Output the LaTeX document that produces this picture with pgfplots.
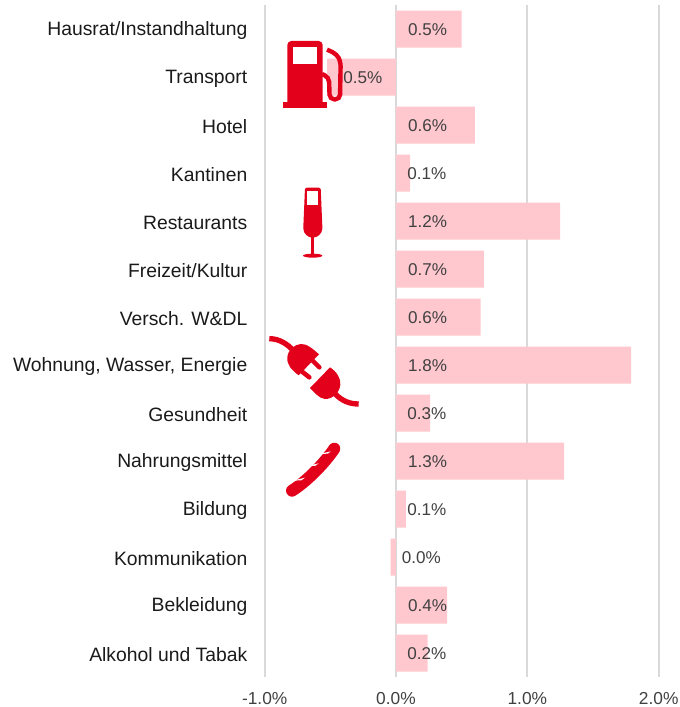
\documentclass[border=0pt]{standalone}
\usepackage{fontspec}
\setmainfont{Liberation Sans}
\usepackage{pgfplots}
\pgfplotsset{compat=1.18}
\definecolor{barpink}{HTML}{FFC7CE}
\definecolor{iconred}{HTML}{E2001A}
\definecolor{gridgray}{HTML}{D9D9D9}
\definecolor{lab}{HTML}{404040}
\definecolor{cat}{HTML}{1A1A1A}
\begin{document}
\begin{tikzpicture}[x=1pt,y=1pt]
\path[use as bounding box] (0,0) rectangle (510,530.25);
\begin{axis}[
  at={(198.5pt,22.5pt)}, anchor=south west,
  scale only axis, width=295.5pt, height=504pt,
  xmin=-1, xmax=2, ymin=-0.5, ymax=13.5, y dir=reverse,
  axis line style={draw=none},
  major tick length=0pt,
  xmajorgrids, major x grid style={gridgray,line width=1.35pt},
  xtick={-1,0,1,2},
  xticklabels={-1.0\%,0.0\%,1.0\%,2.0\%},
  ytick={0,...,13},
  yticklabels={Hausrat/Instandhaltung,Transport,Hotel,Kantinen,Restaurants,Freizeit/Kultur,Versch. W\&DL,{Wohnung, Wasser, Energie},Gesundheit,Nahrungsmittel,Bildung,Kommunikation,Bekleidung,Alkohol und Tabak},
  yticklabel style={font=\fontsize{14.5pt}{16pt}\selectfont,text=cat,xshift=-9.5pt,yshift=-1.2pt},
  xticklabel style={font=\fontsize{13pt}{15pt}\selectfont,text=lab,yshift=-7.8pt},
  clip=false,
]
\addplot[xbar, bar width=27.75pt, bar shift=0pt, fill=barpink, draw=none] coordinates {
 (0.50,0) (-0.525,1) (0.60,2) (0.107,3) (1.25,4) (0.67,5) (0.645,6)
 (1.79,7) (0.26,8) (1.28,9) (0.075,10) (-0.04,11) (0.39,12) (0.24,13)};
\addplot[draw=none, mark=none, point meta=explicit symbolic,
  nodes near coords={\pgfplotspointmeta\%},
  every node near coord/.style={anchor=west,inner sep=0pt,text=lab,yshift=-0.8pt,font=\fontsize{12.8pt}{15pt}\selectfont}]
 table[x=x,y=y,meta=l,row sep=\\] {
 x y l\\
 0.09 0 0.5\\
 -0.403 1 0.5\\
 0.09 2 0.6\\
 0.085 3 0.1\\
 0.09 4 1.2\\
 0.09 5 0.7\\
 0.09 6 0.6\\
 0.09 7 1.8\\
 0.085 8 0.3\\
 0.09 9 1.3\\
 0.085 10 0.1\\
 0.042 11 0.0\\
 0.09 12 0.4\\
 0.085 13 0.2\\
};
\end{axis}
% Icons, in 3x zoom coordinates
\begin{scope}[x=0.25pt,y=-0.25pt,xshift=195pt,yshift=530.25pt]
 % pump
 \fill[iconred,rounded corners=3pt] (82,324) -- (82,123) -- (188,123) -- (188,324) -- cycle;
 \fill[iconred] (70,306) rectangle (200,324);
 \fill[white] (100,140) rectangle (172,192);
 \draw[iconred,line width=3.3pt,rounded corners=3.5pt] (186,222) -- (207,232) -- (209,298) -- (240,298) -- (242,185) -- (230,162) -- (201,149);
 % glass
 \fill[iconred,rounded corners=1.5pt] (135,563) -- (182,563) -- (187,680) .. controls (187,702) and (170,712) .. (158,712) .. controls (146,712) and (130,702) .. (130,680) -- cycle;
 \fill[white] (142,573) rectangle (174,615);
 \fill[iconred] (153,700) rectangle (163,764);
 \fill[iconred] (158,767) ellipse [x radius=29,y radius=6];
\end{scope}
\begin{scope}[x=0.25pt,y=-0.25pt,xshift=195pt,yshift=282.75pt]
 % plug
 \draw[iconred,line width=4pt] (28,26) .. controls (60,26) and (85,45) .. (100,62);
 \fill[iconred] (122,42) .. controls (140,40) and (160,58) .. (177,73) -- (116,136) .. controls (95,120) and (80,105) .. (82,82) .. controls (84,60) and (102,44) .. (122,42) -- cycle;
 \draw[iconred,line width=3.4pt,line cap=round] (158,92) -- (178,112);
 \draw[iconred,line width=3.4pt,line cap=round] (125,124) -- (148,142);
 \fill[iconred] (210,112) .. controls (230,125) and (243,145) .. (241,165) .. controls (238,190) and (215,208) .. (195,207) .. controls (178,205) and (165,190) .. (150,174) -- cycle;
 \draw[iconred,line width=4pt] (226,192) .. controls (245,212) and (268,222) .. (296,222);
 % baguette
 \draw[iconred,line width=9pt,line cap=round] (96,482) .. controls (135,458) and (190,405) .. (223,356);
 \fill[white] (180,372) -- (212,364) -- (204,371) -- cycle;
 \fill[white] (140,408) -- (176,400) -- (165,408) -- cycle;
 \fill[white] (98,452) -- (135,443) -- (124,451) -- cycle;
\end{scope}
\end{tikzpicture}
\end{document}
